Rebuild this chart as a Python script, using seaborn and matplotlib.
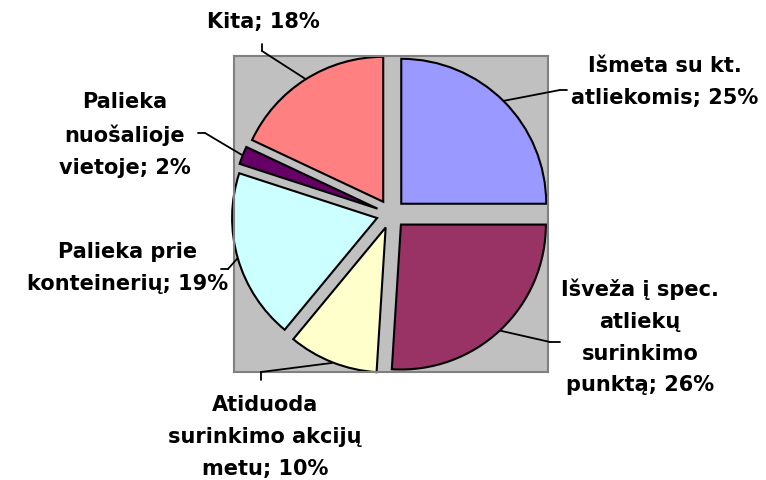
import numpy as np
import matplotlib
matplotlib.use("Agg")
import matplotlib.pyplot as plt
import seaborn as sns

# data (clockwise from 12 o'clock)
labels = ["Išmeta su kt.\natliekomis; 25%",
          "Išveža į spec.\natliekų\nsurinkimo\npunktą; 26%",
          "Atiduoda\nsurinkimo akcijų\nmetu; 10%",
          "Palieka prie\nkonteinerių; 19%",
          "Palieka\nnuošalioje\nvietoje; 2%",
          "Kita; 18%"]
values = [25, 26, 10, 19, 2, 18]
colors = ["#9999FF", "#993366", "#FFFFCC", "#CCFFFF", "#660066", "#FF8080"]

# label layout (image pixels): text centre, leader elbow, leader end
text_pos = [(665, 82), (640, 337), (265, 437), (128, 268), (125, 135), (263, 22)]
elbows = [(560, 91), (550, 343), (261, 373), (228, 270), (205, 134), (262, 52)]
ends = [(567, 91), (560, 343), (261, 381), (221, 270), (198, 134), (262, 45)]

W, H = 766, 481
sns.set_theme(style="white")
plt.rcParams['font.family'] = ['DejaVu Sans']

fig = plt.figure(figsize=(W / 100, H / 100), dpi=100)
fig.patch.set_facecolor("white")
ax = fig.add_axes([234 / W, 1 - 373 / H, 314 / W, 316 / H])
ax.set_facecolor("#C0C0C0")

pal = sns.color_palette(colors)
explode = [0.1] * len(values)
wedges, _ = ax.pie(values, colors=pal, explode=explode, startangle=90,
                   counterclock=False, frame=True,
                   wedgeprops=dict(edgecolor="black", linewidth=1.5))
ax.set_aspect("auto")
ax.set_xlim(-1.083, 1.083)
ax.set_ylim(-1.09, 1.09)
ax.set_xticks([])
ax.set_yticks([])
for s in ax.spines.values():
    s.set_color("#808080")
    s.set_linewidth(1.5)

total = sum(values)
start = 90.0
for i, v in enumerate(values):
    ang = start - 360.0 * v / total / 2
    start -= 360.0 * v / total
    r = 1.0 + explode[i] + 0.005
    anchor = (r * np.cos(np.radians(ang)), r * np.sin(np.radians(ang)))
    ex, ey = elbows[i]
    ax.annotate("", xy=anchor, xycoords="data",
                xytext=(ex, H - ey), textcoords="figure pixels",
                arrowprops=dict(arrowstyle="-", color="black", lw=1.3,
                                shrinkA=0, shrinkB=0),
                annotation_clip=False)
    nx, ny = ends[i]
    fig.add_artist(plt.Line2D([ex / W, nx / W], [1 - ey / H, 1 - ny / H],
                              color="black", lw=1.3, transform=fig.transFigure))
    tx, ty = text_pos[i]
    fig.text(tx / W, 1 - ty / H, labels[i], ha="center", va="center",
             multialignment="center", fontsize=15, fontweight="bold",
             linespacing=1.72, color="black")

fig.savefig("out.png", dpi=100)
